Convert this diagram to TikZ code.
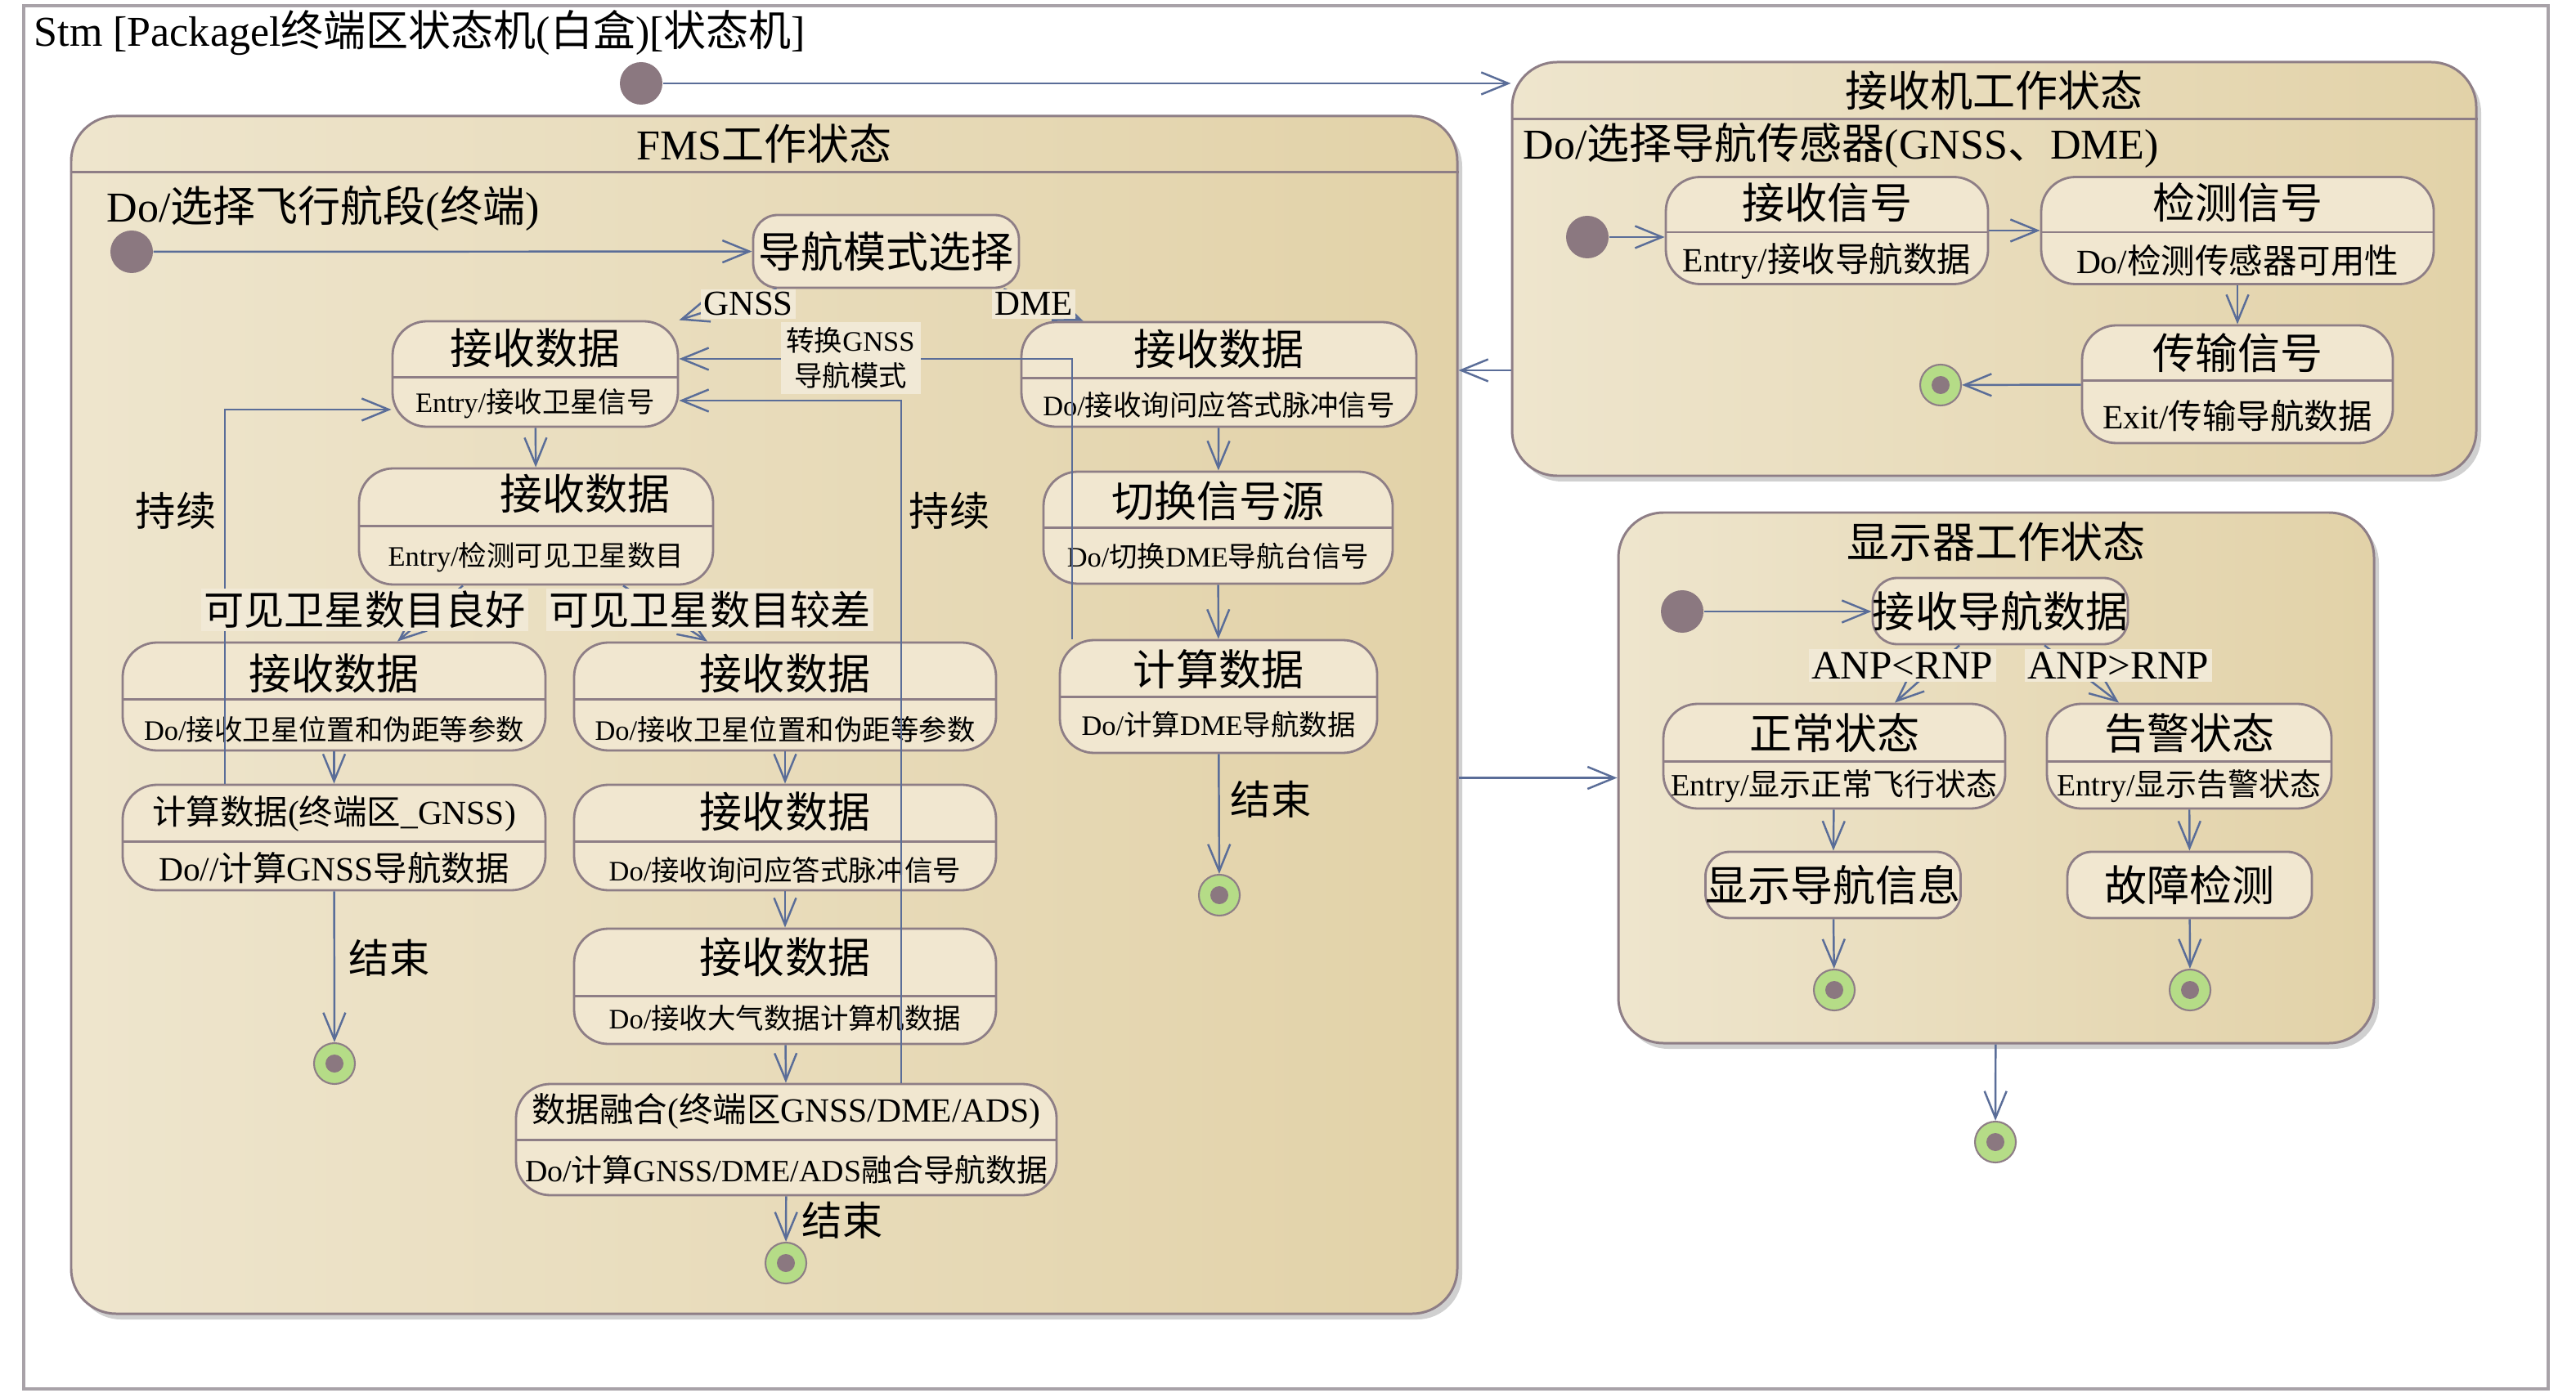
\documentclass[tikz,border=0pt]{standalone}
\usepackage{fontspec}
\usetikzlibrary{arrows.meta, shadows}
\setmainfont{Liberation Serif}
\newfontfamily\cjkfont{Noto Sans CJK SC}
% CJK characters switch to the CJK family on their own
\XeTeXinterchartokenstate=1
\newXeTeXintercharclass\cjkcls
\newcount\cjkcnt
\cjkcnt="3000 \loop\XeTeXcharclass\cjkcnt=\cjkcls\relax\advance\cjkcnt by 1\relax\ifnum\cjkcnt<"3040 \repeat
\cjkcnt="4E00 \loop\XeTeXcharclass\cjkcnt=\cjkcls\relax\advance\cjkcnt by 1\relax\ifnum\cjkcnt<"A000 \repeat
\cjkcnt="FF00 \loop\XeTeXcharclass\cjkcnt=\cjkcls\relax\advance\cjkcnt by 1\relax\ifnum\cjkcnt<"FFF0 \repeat
\XeTeXinterchartoks 0 \cjkcls = {\cjkfont}
\XeTeXinterchartoks 4095 \cjkcls = {\cjkfont}
\XeTeXinterchartoks \cjkcls 0 = {\rmfamily}
\XeTeXinterchartoks \cjkcls 4095 = {\rmfamily}

\definecolor{bordc}{HTML}{8E7E86}
\definecolor{arrc}{HTML}{5A6D98}
\definecolor{compL}{HTML}{EEE5CD}
\definecolor{compR}{HTML}{E2D2A8}
\definecolor{statec}{HTML}{F1E7D0}
\definecolor{dotc}{HTML}{8B7880}
\definecolor{finc}{HTML}{B5DC87}
\definecolor{lblbg}{HTML}{F1E9D6}
\definecolor{framec}{HTML}{A8A2A8}

\begin{document}
\begin{tikzpicture}[
    >={Straight Barb[length=3.3mm,width=2.7mm]},
    frame/.style={draw=framec, line width=1.1pt, inner sep=0pt},
    comp/.style={
        draw=bordc,
        line width=0.85pt,
        rounded corners=0.55cm,
        left color=compL,
        right color=compR,
        inner sep=0pt,
        drop shadow={shadow xshift=0.06cm, shadow yshift=-0.07cm, fill=black!30, opacity=0.6}
    },
    st/.style={draw=bordc, fill=statec, line width=0.8pt, rounded corners=0.42cm, inner sep=0pt},
    sst/.style={st, rounded corners=0.3cm},
    sepl/.style={draw=bordc, line width=0.8pt},
    init/.style={circle, fill=dotc, minimum size=0.52cm, inner sep=0pt},
    fin/.style={
        circle,
        draw=bordc,
        line width=0.6pt,
        fill=finc,
        minimum size=0.5cm,
        inner sep=0pt,
        path picture={\fill[dotc] (path picture bounding box.center) circle (0.11cm);}
    },
    tr/.style={draw=arrc, line width=0.7pt, ->},
    fbig/.style={font=\fontsize{14.8pt}{17pt}\selectfont, inner sep=0pt},
    fmid/.style={font=\fontsize{11.8pt}{14pt}\selectfont, inner sep=0pt},
    fsmall/.style={font=\fontsize{9.8pt}{12pt}\selectfont, inner sep=0pt},
    fdisp/.style={font=\fontsize{10.8pt}{13pt}\selectfont, inner sep=0pt},
    note/.style={font=\fontsize{14pt}{16pt}\selectfont, inner sep=0pt},
    guard/.style={font=\fontsize{14pt}{16pt}\selectfont, fill=lblbg, inner sep=1pt},
    guardsm/.style={font=\fontsize{12.2pt}{14pt}\selectfont, fill=lblbg, inner sep=1pt}
]
\path[use as bounding box, fill=white] (0,0) rectangle (31.5,-17.04);

% Frame
\node[frame, minimum width=30.87cm, minimum height=16.92cm] (frm) at (15.725,-8.53) {};
\node[fbig, anchor=west] (ttl) at (0.41,-0.40) {Stm [Packagel终端区状态机(白盒)[状态机]};

% Composite states
\node[comp, minimum width=16.95cm, minimum height=14.65cm] (fms) at (9.345,-8.745) {};
\draw[sepl] ([yshift=-0.70cm]fms.north west) -- ([yshift=-0.70cm]fms.north east);
\node[fbig] (fmsh) at ([yshift=-0.35cm]fms.north) {FMS工作状态};
\node[fbig, anchor=west] (fmsd) at (1.30,-2.55) {Do/选择飞行航段(终端)};

\node[comp, minimum width=11.79cm, minimum height=5.06cm] (rcv) at (24.385,-3.29) {};
\draw[sepl] ([yshift=-0.71cm]rcv.north west) -- ([yshift=-0.71cm]rcv.north east);
\node[fbig] (rcvh) at ([yshift=-0.36cm]rcv.north) {接收机工作状态};
\node[fbig, anchor=west] (rcvd) at (18.62,-1.78) {Do/选择导航传感器(GNSS、DME)};

\node[comp, minimum width=9.24cm, minimum height=6.49cm] (dsp) at (24.41,-9.515) {};
\node[fbig] (dsph) at ([yshift=-0.37cm]dsp.north) {显示器工作状态};

% Initial and final states
\node[init] (i0) at (7.84,-1.02) {};
\node[init] (i1) at (1.61,-3.08) {};
\node[init] (i2) at (19.41,-2.90) {};
\node[init] (i3) at (20.57,-7.48) {};

\node[fin] (f1) at (4.09,-13.01) {};
\node[fin] (f2) at (9.61,-15.45) {};
\node[fin] (f3) at (14.91,-10.95) {};
\node[fin] (f4) at (23.73,-4.71) {};
\node[fin] (f5) at (22.43,-12.11) {};
\node[fin] (f6) at (26.78,-12.11) {};
\node[fin] (f7) at (24.40,-13.97) {};

% FMS states
\node[sst, fbig, minimum width=3.25cm, minimum height=0.89cm] (nav) at (10.835,-3.075) {导航模式选择};

\node[st, minimum width=3.49cm, minimum height=1.29cm] (r1) at (6.545,-4.575) {};
\draw[sepl] ([yshift=-0.70cm]r1.north west) -- ([yshift=-0.70cm]r1.north east);
\node[fbig] (r1t) at ([yshift=-0.34cm]r1.north) {接收数据};
\node[fsmall] (r1b) at ([yshift=0.30cm]r1.south) {Entry/接收卫星信号};

\node[st, minimum width=4.33cm, minimum height=1.42cm] (r2) at (6.555,-6.44) {};
\draw[sepl] ([yshift=-0.72cm]r2.north west) -- ([yshift=-0.72cm]r2.north east);
\node[fbig] (r2t) at ([xshift=0.60cm,yshift=-0.32cm]r2.north) {接收数据};
\node[fsmall] (r2b) at ([yshift=0.35cm]r2.south) {Entry/检测可见卫星数目};

\node[st, minimum width=5.17cm, minimum height=1.32cm] (r3l) at (4.085,-8.52) {};
\draw[sepl] ([yshift=-0.71cm]r3l.north west) -- ([yshift=-0.71cm]r3l.north east);
\node[fbig] (r3lt) at ([yshift=-0.39cm]r3l.north) {接收数据};
\node[fsmall] (r3lb) at ([yshift=0.27cm]r3l.south) {Do/接收卫星位置和伪距等参数};

\node[st, minimum width=5.16cm, minimum height=1.32cm] (r3r) at (9.60,-8.52) {};
\draw[sepl] ([yshift=-0.71cm]r3r.north west) -- ([yshift=-0.71cm]r3r.north east);
\node[fbig] (r3rt) at ([yshift=-0.39cm]r3r.north) {接收数据};
\node[fsmall] (r3rb) at ([yshift=0.27cm]r3r.south) {Do/接收卫星位置和伪距等参数};

\node[st, minimum width=5.17cm, minimum height=1.29cm] (cg) at (4.085,-10.245) {};
\draw[sepl] ([yshift=-0.71cm]cg.north west) -- ([yshift=-0.71cm]cg.north east);
\node[fmid] (cgt) at ([yshift=-0.37cm]cg.north) {计算数据(终端区\_GNSS)};
\node[fmid] (cgb) at ([yshift=0.29cm]cg.south) {Do//计算GNSS导航数据};

\node[st, minimum width=5.16cm, minimum height=1.29cm] (r4) at (9.60,-10.245) {};
\draw[sepl] ([yshift=-0.71cm]r4.north west) -- ([yshift=-0.71cm]r4.north east);
\node[fbig] (r4t) at ([yshift=-0.34cm]r4.north) {接收数据};
\node[fsmall] (r4b) at ([yshift=0.26cm]r4.south) {Do/接收询问应答式脉冲信号};

\node[st, minimum width=5.16cm, minimum height=1.41cm] (r5) at (9.60,-12.065) {};
\draw[sepl] ([yshift=-0.84cm]r5.north west) -- ([yshift=-0.84cm]r5.north east);
\node[fbig] (r5t) at ([yshift=-0.36cm]r5.north) {接收数据};
\node[fsmall] (r5b) at ([yshift=0.33cm]r5.south) {Do/接收大气数据计算机数据};

\node[st, minimum width=6.61cm, minimum height=1.36cm] (fu) at (9.615,-13.94) {};
\draw[sepl] ([yshift=-0.70cm]fu.north west) -- ([yshift=-0.70cm]fu.north east);
\node[fmid] (fut) at ([yshift=-0.35cm]fu.north) {数据融合(终端区GNSS/DME/ADS)};
\node[fdisp] (fub) at ([yshift=0.32cm]fu.south) {Do/计算GNSS/DME/ADS融合导航数据};

\node[st, minimum width=4.83cm, minimum height=1.28cm] (d1) at (14.905,-4.58) {};
\draw[sepl] ([yshift=-0.70cm]d1.north west) -- ([yshift=-0.70cm]d1.north east);
\node[fbig] (d1t) at ([yshift=-0.34cm]d1.north) {接收数据};
\node[fsmall] (d1b) at ([yshift=0.28cm]d1.south) {Do/接收询问应答式脉冲信号};

\node[st, minimum width=4.27cm, minimum height=1.37cm] (sw) at (14.895,-6.455) {};
\draw[sepl] ([yshift=-0.70cm]sw.north west) -- ([yshift=-0.70cm]sw.north east);
\node[fbig] (swt) at ([yshift=-0.37cm]sw.north) {切换信号源};
\node[fsmall] (swb) at ([yshift=0.35cm]sw.south) {Do/切换DME导航台信号};

\node[st, minimum width=3.88cm, minimum height=1.38cm] (cd) at (14.90,-8.52) {};
\draw[sepl] ([yshift=-0.71cm]cd.north west) -- ([yshift=-0.71cm]cd.north east);
\node[fbig] (cdt) at ([yshift=-0.37cm]cd.north) {计算数据};
\node[fsmall] (cdb) at ([yshift=0.36cm]cd.south) {Do/计算DME导航数据};

% Receiver states
\node[st, minimum width=3.94cm, minimum height=1.31cm] (rs) at (22.34,-2.82) {};
\draw[sepl] ([yshift=-0.69cm]rs.north west) -- ([yshift=-0.69cm]rs.north east);
\node[fbig] (rst) at ([yshift=-0.33cm]rs.north) {接收信号};
\node[fmid] (rsb) at ([yshift=0.30cm]rs.south) {Entry/接收导航数据};

\node[st, minimum width=4.80cm, minimum height=1.31cm] (ds) at (27.36,-2.82) {};
\draw[sepl] ([yshift=-0.69cm]ds.north west) -- ([yshift=-0.69cm]ds.north east);
\node[fbig] (dst) at ([yshift=-0.33cm]ds.north) {检测信号};
\node[fmid] (dsb) at ([yshift=0.30cm]ds.south) {Do/检测传感器可用性};

\node[st, minimum width=3.80cm, minimum height=1.44cm] (ts) at (27.36,-4.70) {};
\draw[sepl] ([yshift=-0.69cm]ts.north west) -- ([yshift=-0.69cm]ts.north east);
\node[fbig] (tst) at ([yshift=-0.35cm]ts.north) {传输信号};
\node[fmid] (tsb) at ([yshift=0.35cm]ts.south) {Exit/传输导航数据};

% Display states
\node[sst, fbig, minimum width=2.96cm, minimum height=0.81cm] (rn) at (24.46,-7.475) {接收导航数据};

\node[st, minimum width=4.18cm, minimum height=1.28cm] (ns) at (22.43,-9.25) {};
\draw[sepl] ([yshift=-0.72cm]ns.north west) -- ([yshift=-0.72cm]ns.north east);
\node[fbig] (nst) at ([yshift=-0.37cm]ns.north) {正常状态};
\node[fdisp] (nsb) at ([yshift=0.29cm]ns.south) {Entry/显示正常飞行状态};

\node[st, minimum width=3.48cm, minimum height=1.28cm] (as) at (26.77,-9.25) {};
\draw[sepl] ([yshift=-0.72cm]as.north west) -- ([yshift=-0.72cm]as.north east);
\node[fbig] (ast) at ([yshift=-0.37cm]as.north) {告警状态};
\node[fdisp] (asb) at ([yshift=0.29cm]as.south) {Entry/显示告警状态};

\node[sst, fbig, minimum width=2.97cm, minimum height=0.81cm] (di) at (22.415,-10.825) {显示导航信息};
\node[sst, fbig, minimum width=2.99cm, minimum height=0.81cm] (fd) at (26.775,-10.825) {故障检测};

% Bends of the long transitions
\coordinate (kc) at (13.11,-4.39);
\coordinate (kr) at (11.02,-4.90);
\coordinate (kl) at (2.75,-5.01);
\coordinate (rx) at ([yshift=-1.24cm]rcv.west);

% Transitions between composites
\draw[tr] (i0) -- (i0 -| rcv.west);
\draw[tr] (rx) -- (rx -| fms.east);
\draw[tr] (fms.east |- dsp.west) -- (dsp.west);
\draw[tr] (dsp) -- (f7);

% FMS transitions
\draw[tr] (i1) -- (nav);
\draw[tr] ([xshift=0.3cm]nav.south west) -- (r1.north east);
\draw[tr] ([xshift=-0.2cm]nav.south east) -- ([xshift=0.77cm]d1.north west);
\draw[tr] (r1) -- (r2);
\draw[tr] ([xshift=-0.895cm]r2.south) -- ([xshift=0.775cm]r3l.north);
\draw[tr] ([xshift=1.065cm]r2.south) -- ([xshift=-0.95cm]r3r.north);
\draw[tr] (r3l) -- (cg);
\draw[tr] (cg) -- (f1);
\draw[tr] (r3r) -- (r4);
\draw[tr] (r4) -- (r5);
\draw[tr] (r5) -- (fu);
\draw[tr] (fu) -- (f2);
\draw[tr] (d1) -- (sw);
\draw[tr] (sw) -- (cd);
\draw[tr] (cd) -- (f3);
\draw[tr] (cd.north -| kc) |- (r1.east |- kc);
\draw[tr] (fu.north -| kr) |- (r1.east |- kr);
\draw[tr] (cg.north -| kl) |- (r1.west |- kl);

% Receiver transitions
\draw[tr] (i2) -- (i2 -| rs.west);
\draw[tr] (rs) -- (ds);
\draw[tr] (ds) -- (ts);
\draw[tr] (ts) -- (f4);

% Display transitions
\draw[tr] (i3) -- (i3 -| rn.west);
\draw[tr] ([xshift=-0.50cm]rn.south) -- ([xshift=0.74cm]ns.north);
\draw[tr] ([xshift=0.54cm]rn.south) -- ([xshift=-0.86cm]as.north);
\draw[tr] (ns) -- (di);
\draw[tr] (as) -- (fd);
\draw[tr] (di) -- (f5);
\draw[tr] (fd) -- (f6);

% Guards and labels
\node[guardsm] (gg) at (9.15,-3.72) {GNSS};
\node[guardsm] (gd) at (12.64,-3.72) {DME};
\node[fsmall, fill=lblbg, inner sep=2pt, align=center] (gsw) at (10.40,-4.38) {转换GNSS\\导航模式};
\node[guard] (gok) at (4.46,-7.46) {可见卫星数目良好};
\node[guard] (gbad) at (8.68,-7.46) {可见卫星数目较差};
\node[note] (cl) at (2.15,-6.25) {持续};
\node[note] (cr) at (11.61,-6.25) {持续};
\node[note] (e1) at (4.76,-11.72) {结束};
\node[note] (e2) at (10.30,-14.93) {结束};
\node[note] (e3) at (15.54,-9.78) {结束};
\node[guard] (glt) at (23.26,-8.14) {ANP<RNP};
\node[guard] (ggt) at (25.90,-8.14) {ANP>RNP};

\end{tikzpicture}
\end{document}
